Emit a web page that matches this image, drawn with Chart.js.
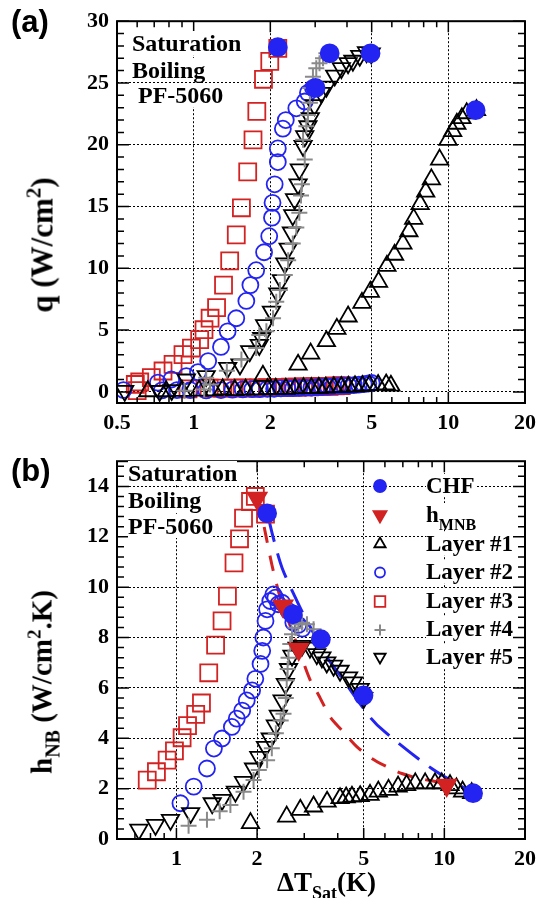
<!DOCTYPE html>
<html><head><meta charset="utf-8">
<script src="https://cdn.jsdelivr.net/npm/chart.js@4/dist/chart.umd.min.js"></script>
<style>
html,body{margin:0;padding:0;background:#fff;}
body{width:543px;height:898px;position:relative;overflow:hidden;font-family:"Liberation Serif","Times New Roman",serif;}
canvas{position:absolute;left:0;}
#ca{top:0;}
#cb{top:440px;}
.t{position:absolute;font-weight:bold;white-space:nowrap;color:#000;line-height:1;}
.bg{background:#fff;}
.pl{font-family:"Liberation Sans",Arial,sans-serif;font-size:31px;}
.ann{font-size:24px;}
.leg{font-size:23px;background:#fff;}
.rot{transform:translate(-50%,-50%) rotate(-90deg);transform-origin:50% 50%;}
sub,sup{line-height:0;}
</style></head>
<body>
<canvas id="ca" width="543" height="440"></canvas>
<canvas id="cb" width="543" height="458"></canvas>

<div class="t pl" style="left:11px;top:6px;">(a)</div>
<div class="t pl" style="left:11px;top:455px;">(b)</div>

<div class="t ann bg" style="left:132px;top:31px;">Saturation</div>
<div class="t ann bg" style="left:132px;top:58px;">Boiling</div>
<div class="t ann bg" style="left:132px;top:83px;">&nbsp;PF-5060</div>

<div class="t ann bg" style="left:128px;top:461px;">Saturation</div>
<div class="t ann bg" style="left:128px;top:488px;">Boiling</div>
<div class="t ann bg" style="left:128px;top:514px;">PF-5060</div>

<div class="t rot" style="left:42px;top:245px;font-size:31px;">q (W/cm<sup style="font-size:21px;vertical-align:12px;">2</sup>)</div>
<div class="t rot" style="left:42px;top:682px;font-size:29px;">h<sub style="font-size:20px;vertical-align:-8px;">NB</sub> (W/cm<sup style="font-size:19px;vertical-align:11px;">2</sup>.K)</div>
<div class="t" style="left:277px;top:869px;font-size:27px;">&Delta;T<sub style="font-size:18px;vertical-align:-8px;">Sat</sub>(K)</div>

<div class="t leg" style="left:426px;top:474px;">CHF</div>
<div class="t leg" style="left:426px;top:503px;">h<sub style="font-size:16px;vertical-align:-8px;">MNB</sub></div>
<div class="t leg" style="left:426px;top:532px;">Layer #1</div>
<div class="t leg" style="left:426px;top:560px;">Layer #2</div>
<div class="t leg" style="left:426px;top:589px;">Layer #3</div>
<div class="t leg" style="left:426px;top:617px;">Layer #4</div>
<div class="t leg" style="left:426px;top:645px;">Layer #5</div>

<script>
// ---------- tick labels ----------
const xTickLabelsA = [0.5, 1, 2, 5, 10, 20];
const yTickLabelsA = [0, 5, 10, 15, 20, 25, 30];
const xTickLabelsB = [1, 2, 5, 10, 20];
const yTickLabelsB = [0, 2, 4, 6, 8, 10, 12, 14];
const xMinorTicks = [0.6, 0.7, 0.8, 0.9, 3, 4, 6, 7, 8, 9];

// ---------- panel (a): heat flux q (W/cm2) vs dT_sat (K) ----------
const a_layer1_dT = [0.66,0.78,0.9,1.05,1.2,1.3,1.45,1.6,1.75,1.95,2.1,2.3,2.5,2.7,2.9,3.1,3.3,3.55,3.8,4.05,4.3,4.6,4.9,5.3,5.7,5.95,
  1.87,2.57,2.88,3.32,3.65,4.04,4.58,4.94,5.32,5.74,6.15,6.63,7.0,7.31,7.75,8.15,8.58,9.24,9.97,10.4,10.8,11.3,11.8,12.9];
const a_layer1_q = [0.05,0.05,0.08,0.1,0.12,0.2,0.15,0.18,0.2,0.22,0.25,0.25,0.28,0.3,0.3,0.33,0.35,0.38,0.4,0.42,0.45,0.48,0.52,0.56,0.6,0.5,
  1.3,2.2,3.1,4.1,5.1,6.1,7.2,8.1,8.9,10.2,11.1,12.0,13.0,14.0,15.2,16.2,17.2,18.8,20.4,21.1,21.7,22.15,22.55,22.8];

const a_layer2_dT = [0.53,0.75,0.86,0.97,1.12,1.28,1.42,1.56,1.7,1.82,1.95,2.07,2.2,2.33,2.46,2.6,2.75,2.9,3.05,3.2,3.36,3.52,3.7,3.88,4.06,4.25,4.45,4.65,4.85,5.0,
  0.724,0.817,0.936,1.04,1.14,1.28,1.36,1.47,1.61,1.67,1.76,1.89,1.98,2.03,2.04,2.08,2.14,2.14,2.24,2.3,2.53,2.73,2.81,2.94];
const a_layer2_q = [0.15,0.12,0.15,0.15,0.12,0.15,0.18,0.2,0.22,0.22,0.25,0.25,0.28,0.3,0.3,0.32,0.35,0.35,0.38,0.4,0.42,0.45,0.48,0.5,0.52,0.55,0.58,0.62,0.68,0.72,
  0.75,1.0,1.28,1.6,2.49,3.64,4.9,5.96,7.36,8.64,9.85,11.3,12.6,14.1,15.3,16.8,18.6,19.7,21.3,22.0,22.95,23.5,24.2,24.6];

const a_layer3_dT = [0.6,0.95,1.15,1.3,1.42,1.55,1.68,1.8,1.95,2.1,2.25,2.4,2.55,2.7,2.85,3.0,3.2,3.4,3.6,3.8,
  0.59,0.614,0.682,0.758,0.83,0.908,0.98,1.056,1.098,1.16,1.23,1.31,1.385,1.47,1.54,1.63,1.71,1.77,1.88,1.99,2.14];
const a_layer3_q = [0.1,0.25,0.3,0.3,0.3,0.32,0.3,0.32,0.35,0.35,0.35,0.38,0.38,0.4,0.4,0.42,0.45,0.45,0.48,0.5,
  0.6,0.8,1.15,1.69,2.22,3.02,3.55,4.23,5.03,5.96,6.82,8.64,10.6,12.7,14.9,17.8,20.4,22.7,25.3,26.75,27.8];

const a_layer4_dT = [0.92,1.1,1.16,1.12,1.35,1.54,1.76,1.81,1.93,2.05,2.11,2.18,2.28,2.35,2.45,2.53,2.6,2.64,2.66,2.73,2.69,2.77,2.81,2.86,2.87,2.94,3.03,3.12,3.22,3.32];
const a_layer4_q = [0.1,0.2,0.6,1.15,1.7,2.62,3.55,4.6,4.9,5.96,7.3,8.24,9.45,10.65,12.0,13.3,14.5,15.9,16.8,18.8,20.4,21.5,22.4,23.4,24.6,25.5,26.2,26.6,27.0,27.4];

const a_layer5_dT = [0.536,0.735,0.82,0.936,1.12,1.36,1.52,1.66,1.81,1.85,1.9,2.02,2.14,2.21,2.28,2.35,2.42,2.45,2.49,2.57,2.6,2.69,2.73,2.81,2.87,2.98,3.17,3.32,3.58,3.8,4.04,4.22,4.49,4.77,4.98];
const a_layer5_q = [0.08,0.08,0.15,1.0,1.28,1.95,2.22,3.3,3.8,4.36,5.4,6.5,7.97,9.05,10.4,11.6,12.9,14.3,15.6,16.8,18.0,19.9,20.7,21.5,22.15,23.2,24.2,24.7,25.6,26.2,26.6,26.8,27.2,27.5,27.4];

const a_chf_dT = [2.14, 3.01, 3.42, 4.95, 12.8];
const a_chf_q = [27.9, 24.6, 27.4, 27.4, 22.8];

// ---------- panel (b): h_NB (W/cm2.K) vs dT_sat (K) ----------
const b_layer1_dT = [1.89,2.58,2.9,3.25,3.65,4.08,4.3,4.52,4.85,5.28,5.67,6.19,6.72,7.23,7.79,8.48,9.23,9.78,10.5,11.1,11.7,12.65];
const b_layer1_h = [0.63,0.89,1.16,1.29,1.48,1.62,1.65,1.68,1.7,1.75,1.88,1.95,2.08,2.14,2.21,2.21,2.21,2.21,2.14,2.01,1.88,1.82];

const b_layer2_dT = [1.035,1.16,1.30,1.38,1.48,1.61,1.68,1.76,1.83,1.916,1.97,2.06,2.09,2.11,2.15,2.18,2.24,2.30,2.34,2.40,2.48,2.62,2.73,2.85,2.95];
const b_layer2_h = [1.42,2.08,2.8,3.59,3.99,4.45,4.78,5.1,5.5,5.9,6.36,6.95,7.47,8.0,8.66,9.12,9.45,9.71,9.58,9.32,9.38,9.05,8.6,8.5,8.35];

const b_layer3_dT = [0.778,0.842,0.923,0.983,1.05,1.10,1.18,1.24,1.32,1.40,1.48,1.55,1.64,1.72,1.78,1.89,1.97,2.15];
const b_layer3_h = [2.34,2.67,3.13,3.5,4.02,4.5,4.95,5.4,6.6,7.7,8.66,9.64,10.96,11.92,12.74,13.4,13.6,12.9];

const b_layer4_dT = [1.11,1.3,1.45,1.59,1.78,1.94,2.03,2.18,2.27,2.35,2.45,2.51,2.56,2.58,2.6,2.62,2.66,2.7,2.78,2.85,2.94,3.07,3.25,3.4];
const b_layer4_h = [0.53,0.76,1.1,1.35,1.88,2.34,2.74,3.13,3.6,4.2,4.7,4.97,5.6,6.3,6.75,7.2,7.74,8.13,8.39,8.53,8.59,8.53,8.33,8.0];

const b_layer5_dT = [0.724,0.835,0.95,1.13,1.36,1.48,1.66,1.78,1.94,2.03,2.15,2.24,2.34,2.4,2.48,2.55,2.62,2.7,2.82,2.94,3.15,3.34,3.49,3.64,3.86,4.08,4.39,4.58,4.85,5.0];
const b_layer5_h = [0.37,0.56,0.76,1.03,1.42,1.55,1.88,2.27,2.8,3.26,3.66,3.99,4.51,4.9,5.5,6.16,6.75,7.28,7.6,7.67,7.6,7.34,7.21,7.01,6.88,6.68,6.42,6.22,5.96,5.6];

const b_chf_dT = [2.18, 2.72, 3.46, 4.99, 12.8];
const b_chf_h = [12.93, 8.92, 7.93, 5.7, 1.82];

const b_hmnb_dT = [2.0, 2.5, 2.86, 10.2];
const b_hmnb_h = [13.53, 9.25, 7.54, 2.14];

const b_chfFit_dT = [2.2,2.3,2.48,2.78,2.98,3.65,3.97,5.28,6.0,8.97,12.8];
const b_chfFit_h = [12.8,11.95,10.76,9.58,8.92,7.21,6.68,4.84,4.25,2.8,1.82];

const b_mnbFit_dT = [2.0,2.06,2.27,2.41,2.5,2.86,3.16,3.4,3.75,4.15,4.72,5.36,6.1,6.94,8.0,9.37,10.2];
const b_mnbFit_h = [13.5,13.07,10.9,9.78,9.25,7.54,6.3,5.7,4.84,4.31,3.66,3.2,2.87,2.6,2.41,2.27,2.14];

// ---------- styling ----------
const BLUE = '#2424f2', RED = '#d22222', GRAY = '#8a8a8a', BLACK = '#000000';
const pts = (xs, ys) => xs.map((x, i) => ({x: x, y: ys[i]}));

function markerSet(label, xs, ys, style, order) {
  return Object.assign({label: label, data: pts(xs, ys), showLine: false, order: order,
    pointBorderWidth: 1.8, backgroundColor: 'rgba(0,0,0,0)'}, style);
}
const S = {
  l1: {pointStyle: 'triangle', pointRadius: 10, pointBorderColor: BLACK, pointBackgroundColor: 'rgba(0,0,0,0)'},
  l2: {pointStyle: 'circle', pointRadius: 8, pointBorderColor: BLUE, pointBackgroundColor: 'rgba(0,0,0,0)'},
  l3: {pointStyle: 'rect', pointRadius: 12, pointBorderColor: RED, pointBackgroundColor: 'rgba(0,0,0,0)'},
  l4: {pointStyle: 'cross', pointRadius: 8, pointBorderColor: GRAY, pointBorderWidth: 2},
  l5: {pointStyle: 'triangle', pointRotation: 180, pointRadius: 10, pointBorderColor: BLACK, pointBackgroundColor: 'rgba(0,0,0,0)'},
  chf: {pointStyle: 'circle', pointRadius: 9, pointBorderColor: BLUE, pointBackgroundColor: BLUE},
  mnb: {pointStyle: 'triangle', pointRotation: 180, pointRadius: 11, pointBorderColor: RED, pointBackgroundColor: RED}
};

const tickFont = {family: '"Liberation Serif","Times New Roman",serif', weight: 'bold', size: 22};

// frame + inward ticks on all four sides
const framePlugin = {
  id: 'frame',
  afterDatasetsDraw(chart, args, o) {
    const {ctx, chartArea: {left, right, top, bottom}} = chart;
    const xs = chart.scales.x, ys = chart.scales.y;
    ctx.save();
    ctx.strokeStyle = '#000';
    ctx.lineWidth = 1.5;
    ctx.beginPath();
    const xt = (v, len) => { const p = xs.getPixelForValue(v); ctx.moveTo(p, bottom); ctx.lineTo(p, bottom - len); ctx.moveTo(p, top); ctx.lineTo(p, top + len); };
    const yt = (v, len) => { const p = ys.getPixelForValue(v); ctx.moveTo(left, p); ctx.lineTo(left + len, p); ctx.moveTo(right, p); ctx.lineTo(right - len, p); };
    o.xMajor.forEach(v => xt(v, 11));
    o.xMinor.forEach(v => { if (v > xs.min && v < xs.max) xt(v, 6); });
    o.yMajor.forEach(v => yt(v, 12));
    for (let v = o.yMinStart; v < ys.max - 1e-6; v += o.yMinorStep) {
      const r = Math.round(v * 1000) / 1000;
      if (r > ys.min && !o.yMajor.some(m => Math.abs(m - r) < 1e-6)) yt(r, 7);
    }
    ctx.stroke();
    ctx.lineWidth = 2;
    ctx.strokeRect(left, top, right - left, bottom - top);
    ctx.restore();
  }
};

// legend markers (panel b), drawn with each dataset's own point style
const legendPlugin = {
  id: 'legMarks',
  afterDraw(chart, args, o) {
    if (!o.items) return;
    const ctx = chart.ctx;
    o.items.forEach(it => {
      const ds = chart.data.datasets[it.ds];
      ctx.save();
      ctx.strokeStyle = ds.pointBorderColor;
      ctx.fillStyle = ds.pointBackgroundColor || 'rgba(0,0,0,0)';
      ctx.lineWidth = ds.pointBorderWidth;
      Chart.helpers.drawPoint(ctx, {pointStyle: ds.pointStyle, rotation: ds.pointRotation || 0, radius: it.r, borderWidth: ds.pointBorderWidth}, it.x, it.y - 440);
      ctx.restore();
    });
  }
};

function makeScales(xTicks, yTicks, xmin, xmax, ymin, ymax, yWidth, xHeight) {
  return {
    x: {
      type: 'logarithmic', min: xmin, max: xmax,
      afterBuildTicks: s => { s.ticks = xTicks.map(v => ({value: v, major: true})); },
      afterFit: s => { s.height = xHeight; },
      ticks: {autoSkip: false, maxRotation: 0, padding: 7, font: tickFont, color: '#000', callback: v => String(v)},
      grid: {color: '#000', lineWidth: 1, drawTicks: false},
      border: {display: false, dash: [2, 2]}
    },
    y: {
      type: 'linear', min: ymin, max: ymax,
      afterBuildTicks: s => { s.ticks = yTicks.map(v => ({value: v})); },
      afterFit: s => { s.width = yWidth; },
      ticks: {autoSkip: false, padding: 8, font: tickFont, color: '#000', callback: v => String(v)},
      grid: {color: '#000', lineWidth: 1, drawTicks: false},
      border: {display: false, dash: [2, 2]}
    }
  };
}

const common = {
  responsive: false, animation: false, devicePixelRatio: 1,
  plugins: {legend: {display: false}, tooltip: {enabled: false}}
};

new Chart(document.getElementById('ca'), {
  type: 'scatter',
  data: {datasets: [
    markerSet('CHF', a_chf_dT, a_chf_q, S.chf, 1),
    markerSet('Layer #4', a_layer4_dT, a_layer4_q, S.l4, 3),
    markerSet('Layer #5', a_layer5_dT, a_layer5_q, S.l5, 4),
    markerSet('Layer #1', a_layer1_dT, a_layer1_q, S.l1, 5),
    markerSet('Layer #2', a_layer2_dT, a_layer2_q, S.l2, 6),
    markerSet('Layer #3', a_layer3_dT, a_layer3_q, S.l3, 7)
  ]},
  options: Object.assign({}, common, {
    layout: {padding: {top: 18, right: 18, left: 0, bottom: 0}},
    scales: makeScales(xTickLabelsA, yTickLabelsA, 0.5, 20, -0.9, 30, 117, 37),
    plugins: Object.assign({}, common.plugins, {
      frame: {xMajor: xTickLabelsA, xMinor: xMinorTicks, yMajor: yTickLabelsA, yMinorStep: 1, yMinStart: 0}
    })
  }),
  plugins: [framePlugin]
});

new Chart(document.getElementById('cb'), {
  type: 'scatter',
  data: {datasets: [
    markerSet('CHF', b_chf_dT, b_chf_h, S.chf, 1),
    markerSet('h_MNB', b_hmnb_dT, b_hmnb_h, S.mnb, 2),
    markerSet('Layer #1', b_layer1_dT, b_layer1_h, S.l1, 5),
    markerSet('Layer #2', b_layer2_dT, b_layer2_h, S.l2, 6),
    markerSet('Layer #3', b_layer3_dT, b_layer3_h, S.l3, 7),
    markerSet('Layer #4', b_layer4_dT, b_layer4_h, S.l4, 3),
    markerSet('Layer #5', b_layer5_dT, b_layer5_h, S.l5, 4),
    {label: 'CHF fit', data: pts(b_chfFit_dT, b_chfFit_h), showLine: true, pointRadius: 0, borderColor: BLUE, borderWidth: 3, borderDash: [26, 12], order: 9, tension: 0.3},
    {label: 'MNB fit', data: pts(b_mnbFit_dT, b_mnbFit_h), showLine: true, pointRadius: 0, borderColor: RED, borderWidth: 3, borderDash: [16, 13], order: 8, tension: 0.3}
  ]},
  options: Object.assign({}, common, {
    layout: {padding: {top: 19, right: 18, left: 0, bottom: 0}},
    scales: makeScales(xTickLabelsB, yTickLabelsB, 0.603, 20, 0, 15, 117, 59),
    plugins: Object.assign({}, common.plugins, {
      frame: {xMajor: xTickLabelsB, xMinor: xMinorTicks, yMajor: yTickLabelsB, yMinorStep: 0.4, yMinStart: 0},
      legMarks: {items: [
        {ds: 0, x: 380, y: 486, r: 6},
        {ds: 1, x: 380, y: 515, r: 7.5},
        {ds: 2, x: 380, y: 544, r: 6.5},
        {ds: 3, x: 380, y: 572.5, r: 5},
        {ds: 4, x: 380, y: 601.5, r: 7.5},
        {ds: 5, x: 380, y: 630, r: 5.5},
        {ds: 6, x: 380, y: 657, r: 6.5}
      ]}
    })
  }),
  plugins: [framePlugin, legendPlugin]
});
</script>
</body></html>
